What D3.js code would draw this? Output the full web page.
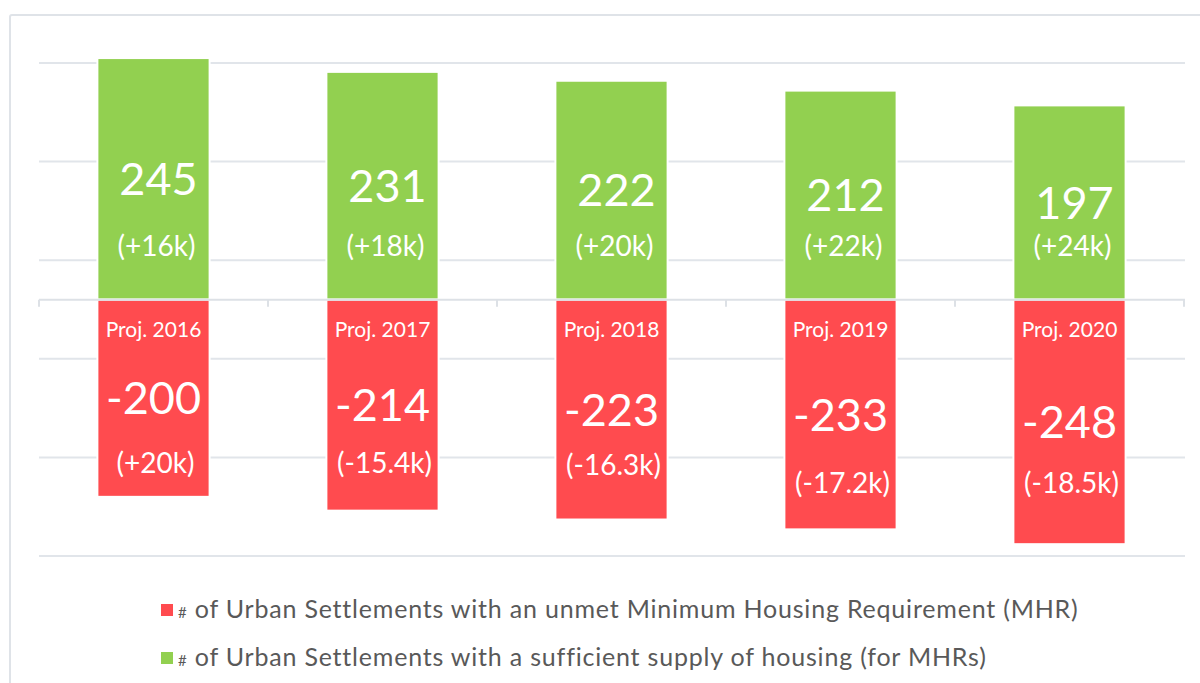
<!DOCTYPE html>
<html lang="en">
  <head>
    <meta charset="utf-8" />
    <title>Urban Settlements and Minimum Housing Requirement</title>
    <script src="https://cdnjs.cloudflare.com/ajax/libs/d3/7.8.5/d3.min.js"></script>
    <style type="text/css">
      body {
        margin: 0;
        background: #fff;
        overflow: hidden;
      }
      text {
        font-family: Lato, "Noto Sans", sans-serif;
      }
      .grid line {
        stroke: #e1e5ea;
        stroke-width: 2;
      }
      .barLabel {
        fill: #fff;
        text-anchor: middle;
      }
      .legend text {
        fill: #595959;
        font-size: 25px;
        letter-spacing: 0.8px;
      }
    </style>
  </head>

  <body>
    <div id="chart"></div>

    <script>
      // Data.
      const years = ['Proj. 2016', 'Proj. 2017', 'Proj. 2018', 'Proj. 2019', 'Proj. 2020'];
      const supplied = [245, 231, 222, 212, 197];
      const unmet = [-200, -214, -223, -233, -248];
      const suppliedNotes = ['(+16k)', '(+18k)', '(+20k)', '(+22k)', '(+24k)'];
      const unmetNotes = ['(+20k)', '(-15.4k)', '(-16.3k)', '(-17.2k)', '(-18.5k)'];
      const gridValues = [-260, -160, -60, 40, 140, 240];
      const legendLabels = [
        'of Urban Settlements with an unmet Minimum Housing Requirement (MHR)',
        'of Urban Settlements with a sufficient supply of housing (for MHRs)'
      ];

      const width = 1200;
      const height = 683;
      const green = '#92d050';
      const red = '#ff4b4f';

      const svg = d3.select('#chart').append('svg')
        .attr('width', width)
        .attr('height', height);

      // Frame around the chart (runs off the right and bottom edges).
      svg.append('rect')
        .attr('x', 10)
        .attr('y', 15)
        .attr('width', 1400)
        .attr('height', 900)
        .attr('rx', 2)
        .attr('fill', '#fff')
        .attr('stroke', '#dfe3e8')
        .attr('stroke-width', 2);

      // Scales.
      const x = d3.scaleBand().domain(years).range([39, 1184])
        .paddingInner(0.51).paddingOuter(0.255);
      const xEdge = d3.scaleBand().domain(years).range([39, 1184]);
      const y = d3.scaleLinear().domain([-260, 240]).range([556, 63]);

      // Gridlines.
      svg.append('g')
        .attr('class', 'grid')
        .selectAll('line')
        .data(gridValues)
        .join('line')
          .attr('x1', 39)
          .attr('x2', 1185)
          .attr('y1', d => y(d))
          .attr('y2', d => y(d));

      // Bars: green above zero, red below.
      const bars = svg.append('g');
      bars.selectAll('.up')
        .data(years)
        .join('rect')
          .attr('class', 'up')
          .attr('x', d => x(d))
          .attr('width', x.bandwidth())
          .attr('y', (d, i) => y(supplied[i]))
          .attr('height', (d, i) => y(0) - y(supplied[i]))
          .attr('fill', green)
          .attr('stroke', '#fff')
          .attr('stroke-width', 2);

      bars.selectAll('.down')
        .data(years)
        .join('rect')
          .attr('class', 'down')
          .attr('x', d => x(d))
          .attr('width', x.bandwidth())
          .attr('y', y(0))
          .attr('height', (d, i) => y(unmet[i]) - y(0))
          .attr('fill', red)
          .attr('stroke', '#fff')
          .attr('stroke-width', 2);

      // Category axis along zero with boundary ticks.
      const axis = svg.append('g').attr('stroke', '#dde1e6').attr('stroke-width', 2);
      axis.append('line')
        .attr('x1', 39).attr('x2', 1185)
        .attr('y1', y(0)).attr('y2', y(0));
      axis.selectAll('.tick')
        .data(years.concat(['end']))
        .join('line')
          .attr('class', 'tick')
          .attr('x1', (d, i) => i < years.length ? xEdge(d) : xEdge.range()[1])
          .attr('x2', (d, i) => i < years.length ? xEdge(d) : xEdge.range()[1])
          .attr('y1', y(0))
          .attr('y2', y(0) + 7);

      // Labels.
      const cx = d => x(d) + x.bandwidth() / 2;
      const labels = svg.append('g');

      labels.selectAll('.upValue')
        .data(years)
        .join('text')
          .attr('class', 'barLabel')
          .attr('x', d => cx(d) + 5)
          .attr('y', (d, i) => y(supplied[i] / 2))
          .attr('dy', '0.36em')
          .attr('font-size', 45)
          .text((d, i) => supplied[i]);

      labels.selectAll('.upNote')
        .data(years)
        .join('text')
          .attr('class', 'barLabel')
          .attr('x', d => cx(d) + 3)
          .attr('y', y(54))
          .attr('dy', '0.35em')
          .attr('font-size', 28)
          .text((d, i) => suppliedNotes[i]);

      labels.selectAll('.year')
        .data(years)
        .join('text')
          .attr('class', 'barLabel')
          .attr('x', d => cx(d))
          .attr('y', 337)
          .attr('font-size', 21)
          .text(d => d);

      labels.selectAll('.downValue')
        .data(years)
        .join('text')
          .attr('class', 'barLabel')
          .attr('x', d => cx(d))
          .attr('y', (d, i) => y(unmet[i] / 2))
          .attr('dy', '0.36em')
          .attr('font-size', 45)
          .text((d, i) => '-' + Math.abs(unmet[i]));

      // Notes below sit a little lower on the last two bars.
      const unmetNoteAt = [-166, -166, -168, -186, -186];
      labels.selectAll('.downNote')
        .data(years)
        .join('text')
          .attr('class', 'barLabel')
          .attr('x', d => cx(d) + 2)
          .attr('y', (d, i) => y(unmetNoteAt[i]))
          .attr('dy', '0.35em')
          .attr('font-size', 28)
          .text((d, i) => unmetNotes[i]);

      // Legend.
      const legend = svg.append('g').attr('class', 'legend')
        .selectAll('g')
        .data(legendLabels)
        .join('g')
          .attr('transform', (d, i) => `translate(161, ${604 + i * 48})`);

      legend.append('rect')
        .attr('width', 12)
        .attr('height', 12)
        .attr('fill', (d, i) => i === 0 ? red : green);

      const legendText = legend.append('text')
        .attr('x', 17)
        .attr('y', 14);
      legendText.append('tspan')
        .attr('font-size', 15)
        .text('#');
      legendText.append('tspan')
        .text(d => ' ' + d);
    </script>
  </body>
</html>
